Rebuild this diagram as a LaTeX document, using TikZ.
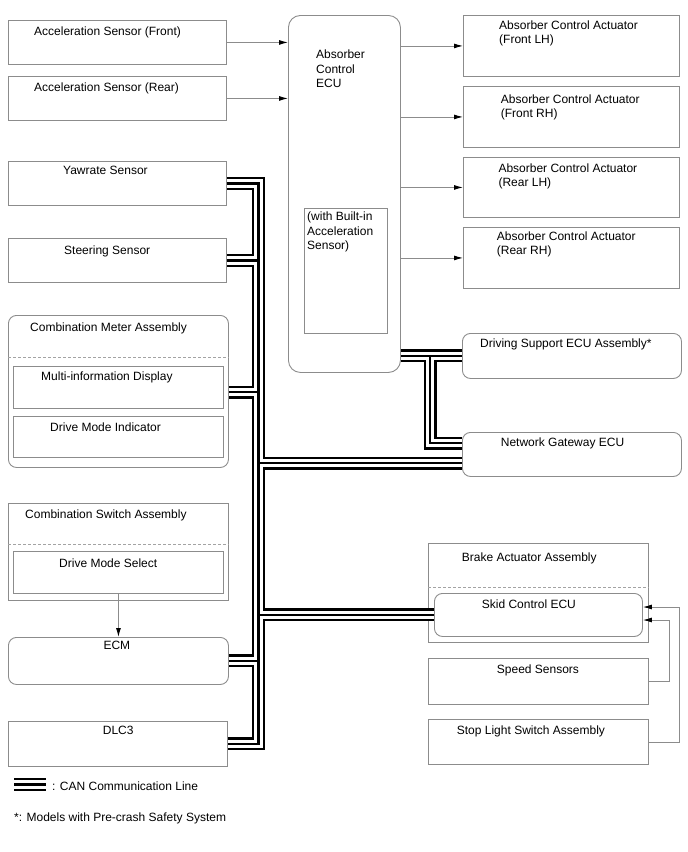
\documentclass[tikz,border=0pt]{standalone}
\usepackage{fontspec}
\setmainfont{Liberation Sans}
\usetikzlibrary{arrows.meta}
\definecolor{boxgray}{RGB}{140,140,140}
\tikzset{
  sz/.style 2 args={minimum width=#1pt, minimum height=#2pt},
  box/.style={draw=boxgray, line width=0.9pt, anchor=north west, inner sep=0pt},
  rbox/.style={box, rounded corners=8pt},
  lbl/.style={anchor=base west, inner sep=0pt},
  mlbl/.style={anchor=north west, inner sep=0pt, align=left},
  sig/.style={draw=boxgray, line width=0.9pt, -{Latex[color=black,length=9pt,width=5pt]}},
  sep/.style={draw=boxgray!80, line width=0.7pt, dash pattern=on 3pt off 2pt}
}
\begin{document}
\begin{tikzpicture}[x=1pt, y=-1pt, font=\fontsize{12}{14.3}\selectfont]
  \useasboundingbox (0,0) rectangle (688,852);
  %
  % Left column
  \node[box, sz={218}{44}] (accF) at (8,20) {};
  \node[box, sz={218}{44}] (accR) at (8,76) {};
  \node[box, sz={218}{44}] (yaw) at (8,161) {};
  \node[box, sz={218}{44}] (str) at (8,238) {};
  \node[rbox, sz={220}{152}] (cmb) at (8,315) {};
  \node[box, sz={210}{42}] (mid) at (13,366) {};
  \node[box, sz={210}{41}] (dmi) at (13,416) {};
  \node[box, sz={220}{97}] (csw) at (8,503) {};
  \node[box, sz={210}{42}] (dms) at (13,551) {};
  \node[rbox, sz={220}{47}] (ecm) at (8,637) {};
  \node[box, sz={219}{45}] (dlc) at (8,721) {};
  %
  % Absorber Control ECU
  \node[box, rounded corners=12pt, sz={112}{357}] (ecu) at (288,15) {};
  \node[box, sz={83}{125}] (bia) at (304,208) {};
  %
  % Right column
  \node[box, sz={216}{61}] (acaFL) at (463,15) {};
  \node[box, sz={216}{61}] (acaFR) at (463,86) {};
  \node[box, sz={216}{60}] (acaRL) at (463,157) {};
  \node[box, sz={216}{61}] (acaRR) at (463,227) {};
  \node[rbox, sz={219}{45}] (dse) at (462,333) {};
  \node[rbox, sz={219}{44}] (ngw) at (462,432) {};
  \node[box, sz={220}{99}] (bra) at (428,543) {};
  \node[rbox, sz={208}{43}] (skid) at (434,593) {};
  \node[box, sz={220}{46}] (spd) at (428,658) {};
  \node[box, sz={220}{45}] (stp) at (428,719) {};
  %
  % Dashed separators
  \draw[sep] (cmb.west |- 0,357) -- (cmb.east |- 0,357);
  \draw[sep] (csw.west |- 0,544) -- (csw.east |- 0,544);
  \draw[sep] (bra.west |- 0,587) -- (bra.east |- 0,587);
  %
  % Signal lines
  \draw[sig] (accF.east) -- (accF.east -| ecu.west);
  \draw[sig] (accR.east) -- (accR.east -| ecu.west);
  \draw[sig] (acaFL.west -| ecu.east) -- (acaFL.west);
  \draw[sig] (acaFR.west -| ecu.east) -- (acaFR.west);
  \draw[sig] (acaRL.west -| ecu.east) -- (acaRL.west);
  \draw[sig] (acaRR.west -| ecu.east) -- (acaRR.west);
  \draw[sig] (dms.south) -- (ecm.north);
  \coordinate (spdK) at (669,620);
  \coordinate (stpK) at (679,607);
  \draw[sig] (spd.east) -| (spdK) -- (skid.east |- spdK);
  \draw[sig] (stp.east) -| (stpK) -- (skid.east |- stpK);
  %
  % CAN bus (black, white, black)
  \coordinate (trX) at (258.5,0);
  \coordinate (brX) at (430,0);
  \coordinate (midJ) at (cmb.east |- 0,392);
  \coordinate (ngwL) at (ngw.west |- 0,463);
  \coordinate (ngwU) at (ngw.west |- 0,443);
  \coordinate (lgA) at (14,784.7);
  \coordinate (lgB) at (46,784.7);
  \foreach \w/\c in {13pt/black, 8.5pt/white, 2.5pt/black}
    \draw[line width=\w, \c]
      (yaw.east) -| (trX |- dlc.east) -- (dlc.east)
      (str.east) -- (str.east -| trX)
      (midJ) -- (midJ -| trX)
      (ngwL -| trX) -- (ngwL)
      (skid.west -| trX) -- (skid.west)
      (ecm.east) -- (ecm.east -| trX)
      (ecu.east |- dse.west) -- (dse.west)
      (brX |- dse.west) -- (brX |- ngwU) -- (ngwU)
      (lgA) -- (lgB);
  %
  % Labels
  \node[lbl] (accFt) at (34,35.5) {Acceleration Sensor (Front)};
  \node[lbl] (accRt) at (34,91.5) {Acceleration Sensor (Rear)};
  \node[lbl] (yawt) at (63,174.6) {Yawrate Sensor};
  \node[lbl] (strt) at (64,254.3) {Steering Sensor};
  \node[lbl] (cmbt) at (30,331) {Combination Meter Assembly};
  \node[lbl] (midt) at (41,380) {Multi-information Display};
  \node[lbl] (dmit) at (50,431.5) {Drive Mode Indicator};
  \node[lbl] (cswt) at (25,518.5) {Combination Switch Assembly};
  \node[lbl] (dmst) at (59,567.5) {Drive Mode Select};
  \node[lbl] (ecmt) at (103.3,649.6) {ECM};
  \node[lbl] (dlct) at (102.7,734.6) {DLC3};
  \node[mlbl] (ecut) at (316,50) {Absorber\\Control\\ECU};
  \node[mlbl] (biat) at (307,212) {(with Built-in\\Acceleration\\Sensor)};
  \node[mlbl] (acaFLt) at (499,20.7) {Absorber Control Actuator\\(Front LH)};
  \node[mlbl] (acaFRt) at (500.7,94.3) {Absorber Control Actuator\\(Front RH)};
  \node[mlbl] (acaRLt) at (498.3,163.3) {Absorber Control Actuator\\(Rear LH)};
  \node[mlbl] (acaRRt) at (496.7,231.7) {Absorber Control Actuator\\(Rear RH)};
  \node[lbl] (dset) at (480,347.6) {Driving Support ECU Assembly*};
  \node[lbl] (ngwt) at (500.7,446.6) {Network Gateway ECU};
  \node[lbl] (brat) at (461.7,561) {Brake Actuator Assembly};
  \node[lbl] (skidt) at (481.7,608.6) {Skid Control ECU};
  \node[lbl] (spdt) at (496.7,673.6) {Speed Sensors};
  \node[lbl] (stpt) at (456.7,734.6) {Stop Light Switch Assembly};
  \node[lbl] (lgt) at (52,790) {: CAN Communication Line};
  \node[lbl] (note) at (14,821) {*: Models with Pre-crash Safety System};
\end{tikzpicture}
\end{document}
